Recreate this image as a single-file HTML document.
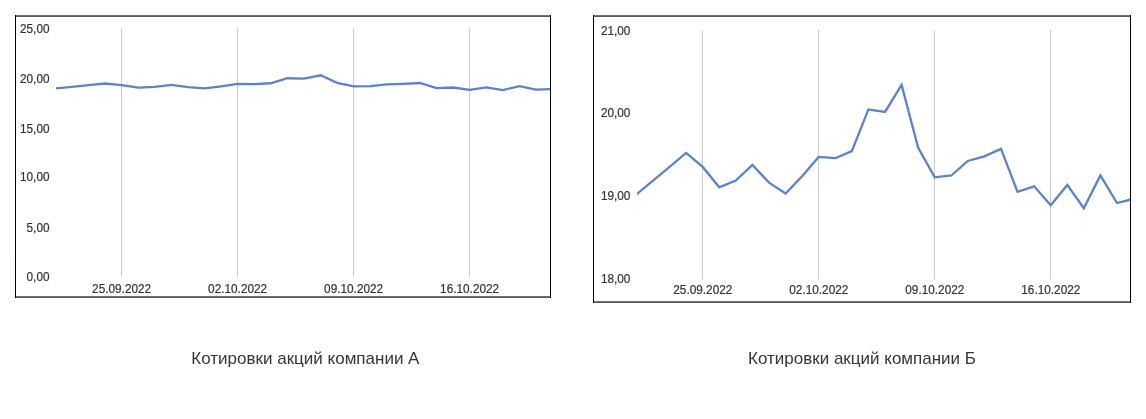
<!DOCTYPE html>
<html><head><meta charset="utf-8"><title>Charts</title>
<style>
html,body{margin:0;padding:0;background:#fff;}
body{width:1146px;height:419px;overflow:hidden;font-family:"Liberation Sans",sans-serif;}
svg{display:block;will-change:transform;opacity:0.999;}
text{font-family:"Liberation Sans",sans-serif;}
.ax{fill:#343434;stroke:#343434;stroke-width:0.2px;}
.cap{fill:#363636;}
</style></head>
<body>
<svg width="1146" height="419" viewBox="0 0 1146 419">
<rect x="0" y="0" width="1146" height="419" fill="#ffffff"/>
<rect x="15" y="15" width="536" height="1" fill="#707070"/><rect x="15" y="16" width="536" height="1" fill="#5c5c5c"/>
<rect x="15" y="296" width="536" height="1" fill="#707070"/><rect x="15" y="297" width="536" height="1" fill="#5c5c5c"/>
<rect x="15" y="15" width="1" height="283" fill="#000"/>
<rect x="550" y="15" width="1" height="283" fill="#000"/>
<rect x="121" y="28" width="1" height="249" fill="#cccccc"/><rect x="237" y="28" width="1" height="249" fill="#cccccc"/><rect x="353" y="28" width="1" height="249" fill="#cccccc"/><rect x="469" y="28" width="1" height="249" fill="#cccccc"/>
<rect x="121" y="277" width="1" height="1" fill="#ebebeb"/><rect x="237" y="277" width="1" height="1" fill="#ebebeb"/><rect x="353" y="277" width="1" height="1" fill="#ebebeb"/><rect x="469" y="277" width="1" height="1" fill="#ebebeb"/>
<rect x="593" y="15" width="538" height="1" fill="#707070"/><rect x="593" y="16" width="538" height="1" fill="#5c5c5c"/>
<rect x="593" y="301" width="538" height="1" fill="#707070"/><rect x="593" y="302" width="538" height="1" fill="#5c5c5c"/>
<rect x="593" y="15" width="1" height="288" fill="#000"/>
<rect x="1130" y="15" width="1" height="288" fill="#000"/>
<rect x="702" y="30" width="1" height="249" fill="#cccccc"/><rect x="818" y="30" width="1" height="249" fill="#cccccc"/><rect x="934" y="30" width="1" height="249" fill="#cccccc"/><rect x="1050" y="30" width="1" height="249" fill="#cccccc"/>
<clipPath id="ca"><rect x="56" y="17" width="494" height="279"/></clipPath>
<clipPath id="cb"><rect x="637" y="17" width="493" height="284"/></clipPath>
<polyline clip-path="url(#ca)" points="55.4,88.49 72.0,86.83 88.6,85.17 105.1,83.49 121.7,85.18 138.3,87.64 154.8,86.83 171.4,84.94 188.0,87.07 204.6,88.38 221.1,86.31 237.7,83.97 254.3,84.13 270.8,83.27 287.4,78.25 304.0,78.55 320.6,75.31 337.1,82.84 353.7,86.43 370.3,86.21 386.8,84.47 403.4,83.91 420.0,83.01 436.5,88.18 453.1,87.52 469.7,89.80 486.3,87.35 502.8,90.15 519.4,86.20 536.0,89.53 552.5,89.02" fill="none" stroke="#5c83ca" stroke-width="2.3" stroke-linejoin="miter"/>
<polyline clip-path="url(#cb)" points="636.4,194.4 653.0,180.6 669.6,166.8 686.1,152.9 702.7,166.9 719.3,187.3 735.8,180.6 752.4,164.9 769.0,182.6 785.6,193.5 802.1,176.3 818.7,156.9 835.3,158.2 851.8,151.1 868.4,109.4 885.0,111.9 901.6,85.0 918.1,147.5 934.7,177.3 951.3,175.5 967.8,161.0 984.4,156.4 1001.0,148.9 1017.5,191.8 1034.1,186.3 1050.7,205.3 1067.3,184.9 1083.8,208.2 1100.4,175.4 1117.0,203.0 1133.5,198.8" fill="none" stroke="#5c83ca" stroke-width="2.3" stroke-linejoin="miter"/>
<text transform="translate(49.5,33.4) scale(1,1.1)" text-anchor="end" font-size="11.8" class="ax">25,00</text>
<text transform="translate(49.5,82.5) scale(1,1.1)" text-anchor="end" font-size="11.8" class="ax">20,00</text>
<text transform="translate(49.5,132.6) scale(1,1.1)" text-anchor="end" font-size="11.8" class="ax">15,00</text>
<text transform="translate(49.5,181.4) scale(1,1.1)" text-anchor="end" font-size="11.8" class="ax">10,00</text>
<text transform="translate(49.5,231.5) scale(1,1.1)" text-anchor="end" font-size="11.8" class="ax">5,00</text>
<text transform="translate(49.5,281.0) scale(1,1.1)" text-anchor="end" font-size="11.8" class="ax">0,00</text>
<text transform="translate(630.4,35.3) scale(1,1.1)" text-anchor="end" font-size="11.8" class="ax">21,00</text>
<text transform="translate(630.4,117.3) scale(1,1.1)" text-anchor="end" font-size="11.8" class="ax">20,00</text>
<text transform="translate(630.4,200.4) scale(1,1.1)" text-anchor="end" font-size="11.8" class="ax">19,00</text>
<text transform="translate(630.4,282.8) scale(1,1.1)" text-anchor="end" font-size="11.8" class="ax">18,00</text>
<text transform="translate(121.6,292.7) scale(1,1.1)" text-anchor="middle" font-size="11.8" class="ax">25.09.2022</text>
<text transform="translate(237.6,292.7) scale(1,1.1)" text-anchor="middle" font-size="11.8" class="ax">02.10.2022</text>
<text transform="translate(353.6,292.7) scale(1,1.1)" text-anchor="middle" font-size="11.8" class="ax">09.10.2022</text>
<text transform="translate(469.6,292.7) scale(1,1.1)" text-anchor="middle" font-size="11.8" class="ax">16.10.2022</text>
<text transform="translate(702.8,294.4) scale(1,1.1)" text-anchor="middle" font-size="11.8" class="ax">25.09.2022</text>
<text transform="translate(818.8,294.4) scale(1,1.1)" text-anchor="middle" font-size="11.8" class="ax">02.10.2022</text>
<text transform="translate(934.8,294.4) scale(1,1.1)" text-anchor="middle" font-size="11.8" class="ax">09.10.2022</text>
<text transform="translate(1050.8,294.4) scale(1,1.1)" text-anchor="middle" font-size="11.8" class="ax">16.10.2022</text>
<text transform="translate(305.4,364) scale(1,1)" text-anchor="middle" font-size="17" class="cap">Котировки акций компании А</text>
<text transform="translate(862.0,364) scale(1,1)" text-anchor="middle" font-size="17" class="cap">Котировки акций компании Б</text>
</svg>
</body></html>
